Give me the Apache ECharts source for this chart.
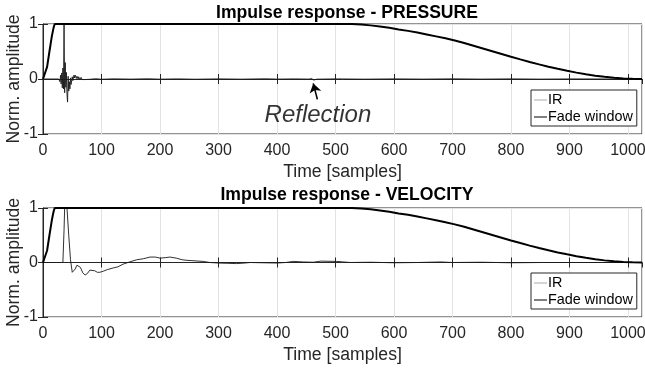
<!DOCTYPE html>
<html>
<head>
<meta charset="utf-8">
<script src="https://cdn.jsdelivr.net/npm/echarts@6/dist/echarts.min.js"></script>
<style>
  html, body { margin: 0; padding: 0; background: #fff; }
  #chart { width: 645px; height: 372px; }
</style>
</head>
<body>
<div id="chart"></div>
<script>
// Sample index ticks and amplitude ticks
const xTicks = [0, 100, 200, 300, 400, 500, 600, 700, 800, 900, 1000];
const yTicks = [-1, 0, 1];
const titles = ['Impulse response - PRESSURE', 'Impulse response - VELOCITY'];
const legendNames = ['IR', 'Fade window'];

// Pressure impulse response: [sample, normalized amplitude]
const pressureIR = [
  [0, 0], [27, 0], [28, 0.03], [29, -0.05], [30, 0.07], [31, -0.09], [32, 0.11], [33, -0.16],
  [34, 0.2], [35, -0.18], [36, 1], [37, -0.25], [38, 0.3], [39, -0.15], [40, 0.12], [41, -0.28],
  [42, -0.42], [43, 0.05], [44, -0.22], [45, -0.05], [46, -0.18], [47, 0.02], [48, -0.1],
  [50, 0.04], [51, -0.03], [53, 0.07], [54, 0.02], [55, 0.07], [57, 0.01], [58, 0.05], [60, 0.0],
  [61, 0.04], [63, -0.01], [65, 0.03], [67, -0.01], [69, 0.02], [72, -0.01], [75, 0.01],
  [80, -0.005], [90, 0.005], [100, -0.005], [120, 0.003], [150, -0.002], [180, 0.004],
  [200, -0.003], [230, 0.002], [260, -0.004], [300, 0.002], [340, -0.003], [380, 0.004],
  [400, -0.002], [430, 0.002], [455, -0.002], [459, 0.01], [461, 0.025], [463, -0.02],
  [465, 0.01], [468, -0.003], [500, 0.002], [550, -0.003], [600, 0.002], [650, -0.002],
  [700, 0.003], [750, -0.002], [800, 0.002], [850, -0.002], [900, 0.001], [1000, 0], [1024, 0]
];

// Velocity impulse response: [sample, normalized amplitude]
const velocityIR = [
  [0, 0], [34, 0], [35, -0.02], [36, 0.6], [37, 1], [41, 1], [44, 0.5], [47, 0.05], [50, -0.18],
  [52, -0.21], [55, -0.12], [58, -0.05], [61, -0.04], [64, -0.09], [68, -0.19], [72, -0.23],
  [76, -0.2], [80, -0.14], [83, -0.13], [88, -0.15], [93, -0.18], [97, -0.18], [103, -0.16],
  [110, -0.13], [120, -0.1], [128, -0.08], [137, -0.03], [148, 0.01], [160, 0.05], [172, 0.07],
  [183, 0.1], [192, 0.1], [200, 0.08], [210, 0.09], [217, 0.1], [228, 0.08], [238, 0.05],
  [246, 0.04], [260, 0.03], [274, 0.02], [285, 0.0], [300, -0.01], [315, -0.015], [331, -0.02],
  [345, -0.01], [354, 0.0], [375, -0.005], [400, -0.01], [415, 0.0], [428, 0.02], [445, 0.01],
  [462, 0.005], [465, 0.03], [475, 0.025], [502, 0.02], [525, 0.0], [560, 0.005], [600, -0.005],
  [640, 0.0], [680, 0.01], [700, 0.0], [750, 0.005], [800, -0.005], [850, 0.0], [900, 0.0], [1024, 0]
];

// Fade window: short fade-in, flat, then a long fade-out
const fadeWindow = [
  [0, 0], [3, 0], [7, 0.22], [11, 0.5], [15, 0.77], [18, 0.93], [20, 1], [512, 1],
  [528, 0.998], [544, 0.99], [560, 0.975], [576, 0.955], [592, 0.93], [608, 0.9], [624, 0.875],
  [640, 0.845], [656, 0.81], [672, 0.775], [688, 0.74], [704, 0.7], [720, 0.655], [736, 0.605],
  [752, 0.555], [768, 0.505], [784, 0.455], [800, 0.405], [816, 0.357], [832, 0.31], [848, 0.266],
  [864, 0.224], [880, 0.185], [896, 0.15], [912, 0.116], [928, 0.086], [944, 0.06], [960, 0.039],
  [976, 0.022], [992, 0.01], [1008, 0.003], [1024, 0]
];

// Annotation of the reflection in the pressure response
const reflectionLabel = [[470, -0.655]];
const reflectionArrow = [[469, -0.37], [462, -0.08]];

const FONT = '"Liberation Sans", Arial, Helvetica, sans-serif';
const INK = '#262626';

const grids = [
  { left: 43, right: 3, top: 24, height: 110 },
  { left: 43, right: 3, top: 208, height: 109 }
];

function xAxisFor(gi, main) {
  return {
    type: 'value', gridIndex: gi, min: 0, max: 1024, interval: 100,
    position: main ? 'bottom' : 'top',
    name: main ? 'Time [samples]' : '',
    nameLocation: 'middle', nameGap: 29, nameMoveOverlap: false,
    nameTextStyle: { fontFamily: FONT, fontSize: 17.6, color: INK },
    axisLine: { show: main, lineStyle: { color: INK, width: 1 } },
    axisTick: { show: true, inside: true, length: 5, lineStyle: { color: INK } },
    axisLabel: {
      show: main, margin: 9, fontFamily: FONT, fontSize: 16, color: INK,
      showMaxLabel: false,
      formatter: v => (xTicks.indexOf(v) >= 0 ? String(v) : '')
    },
    splitLine: { show: main, lineStyle: { color: '#e3e3e3', width: 1 } }
  };
}

function yAxisFor(gi, main) {
  return {
    type: 'value', gridIndex: gi, min: -1, max: 1, interval: 1,
    position: main ? 'left' : 'right',
    name: main ? 'Norm. amplitude' : '',
    nameLocation: 'middle', nameGap: 20, nameMoveOverlap: false,
    nameTextStyle: { fontFamily: FONT, fontSize: 17.6, color: INK },
    axisLine: { show: main, lineStyle: { color: INK, width: 1 } },
    axisTick: { show: true, inside: true, length: 5, lineStyle: { color: INK } },
    axisLabel: {
      show: main, margin: 5, fontFamily: FONT, fontSize: 16, color: INK,
      formatter: v => (yTicks.indexOf(v) >= 0 ? String(v) : '')
    },
    splitLine: { show: main, lineStyle: { color: '#e3e3e3', width: 1 } }
  };
}

// Legend swatches are short horizontal strokes
const thinStroke = 'path://M0,9 L26,9 L26,10 L0,10 Z';
const thickStroke = 'path://M0,8.5 L26,8.5 L26,10.5 L0,10.5 Z';

function legendFor(top) {
  return {
    data: [
      { name: legendNames[0], icon: thinStroke, itemStyle: { color: '#555' } },
      { name: legendNames[1], icon: thickStroke, itemStyle: { color: '#000' } }
    ],
    orient: 'vertical', left: 531, top: top,
    backgroundColor: '#fff', borderColor: INK, borderWidth: 1, borderRadius: 0,
    padding: [3, 4, 2, 3], itemGap: 3, itemWidth: 13, itemHeight: 18,
    selectedMode: false,
    textStyle: { fontFamily: FONT, fontSize: 14.4, color: '#000', padding: [0, 0, 0, -4] }
  };
}

function irSeries(gi, data) {
  return {
    name: 'IR', type: 'line', xAxisIndex: gi * 2, yAxisIndex: gi * 2,
    data: data, showSymbol: false, symbol: 'none', animation: false,
    lineStyle: { color: '#1a1a1a', width: 0.9 }, itemStyle: { color: '#1a1a1a' }, z: 3
  };
}

function fadeSeries(gi) {
  return {
    name: 'Fade window', type: 'line', xAxisIndex: gi * 2, yAxisIndex: gi * 2,
    data: fadeWindow, showSymbol: false, symbol: 'none', animation: false,
    lineStyle: { color: '#000', width: 2 }, itemStyle: { color: '#000' }, z: 4
  };
}

const chart = echarts.init(document.getElementById('chart'), null, { renderer: 'canvas' });

chart.setOption({
  backgroundColor: '#fff',
  animation: false,
  title: titles.map((t, i) => ({
    text: t, left: 342, textAlign: 'center', top: i === 0 ? -1 : 181,
    textStyle: { fontFamily: FONT, fontSize: 17.6, fontWeight: 'bold', color: '#000' }
  })),
  grid: grids.map(g => Object.assign({
    show: true, borderColor: INK, borderWidth: 1, backgroundColor: '#fff',
    containLabel: false, outerBoundsMode: 'none'
  }, g)),
  xAxis: [xAxisFor(0, true), xAxisFor(0, false), xAxisFor(1, true), xAxisFor(1, false)],
  yAxis: [yAxisFor(0, true), yAxisFor(0, false), yAxisFor(1, true), yAxisFor(1, false)],
  legend: [legendFor(90), legendFor(273)],
  series: [
    irSeries(0, pressureIR),
    fadeSeries(0),
    irSeries(1, velocityIR),
    fadeSeries(1),
    {
      name: 'Reflection', type: 'scatter', xAxisIndex: 0, yAxisIndex: 0,
      data: reflectionLabel, symbolSize: 0, silent: true, animation: false,
      label: {
        show: true, position: 'inside', formatter: 'Reflection',
        fontFamily: FONT, fontStyle: 'italic', fontSize: 24, color: '#000'
      },
      markLine: {
        silent: true, animation: false,
        symbol: ['none', 'arrow'], symbolSize: 9,
        lineStyle: { color: '#000', width: 1.6, type: 'solid' },
        label: { show: false },
        data: [[{ coord: reflectionArrow[0] }, { coord: reflectionArrow[1] }]]
      },
      z: 6
    }
  ]
});
</script>
</body>
</html>
